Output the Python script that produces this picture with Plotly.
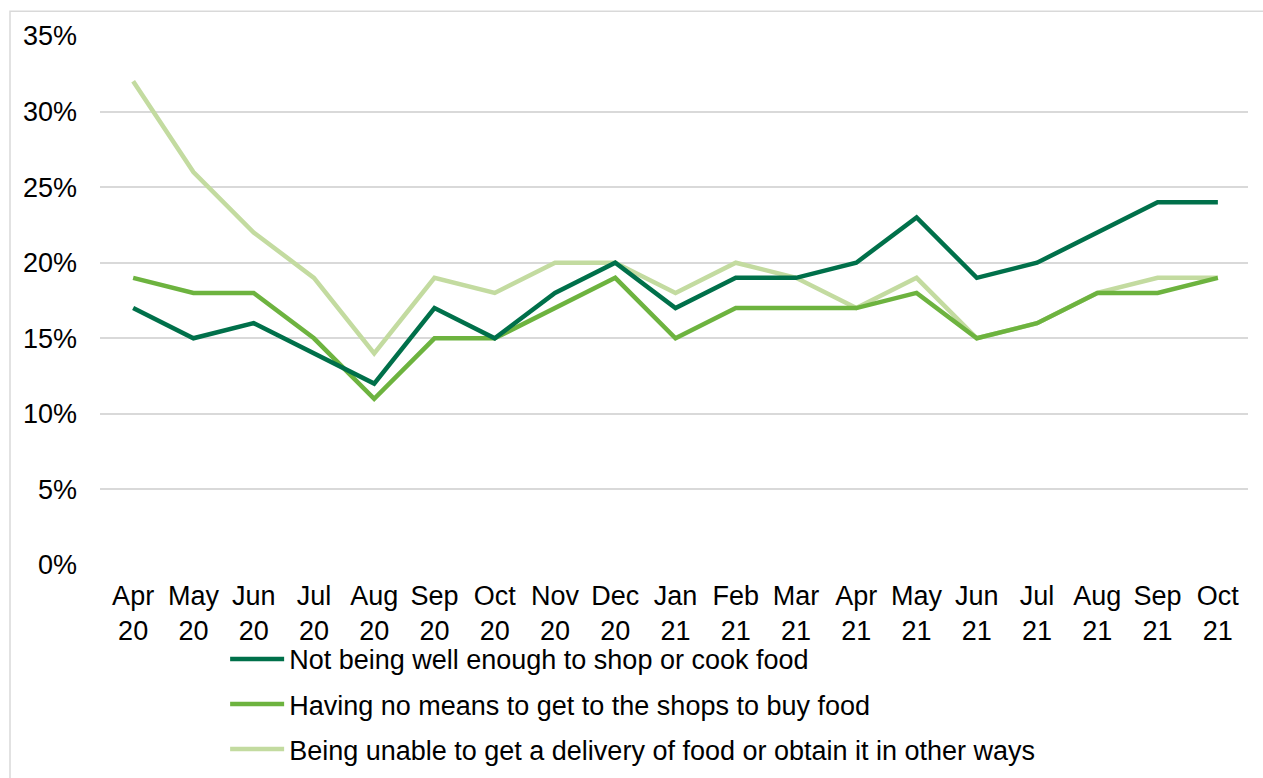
import plotly.graph_objects as go

months = ["Apr<br>20", "May<br>20", "Jun<br>20", "Jul<br>20", "Aug<br>20", "Sep<br>20",
          "Oct<br>20", "Nov<br>20", "Dec<br>20", "Jan<br>21", "Feb<br>21", "Mar<br>21",
          "Apr<br>21", "May<br>21", "Jun<br>21", "Jul<br>21", "Aug<br>21", "Sep<br>21",
          "Oct<br>21"]

not_well = [17, 15, 16, 14, 12, 17, 15, 18, 20, 17, 19, 19, 20, 23, 19, 20, 22, 24, 24]
no_means = [19, 18, 18, 15, 11, 15, 15, 17, 19, 15, 17, 17, 17, 18, 15, 16, 18, 18, 19]
no_delivery = [32, 26, 22, 19, 14, 19, 18, 20, 20, 18, 20, 19, 17, 19, 15, 16, 18, 19, 19]

series = [
    ("Not being well enough to shop or cook food", not_well, "#00704a"),
    ("Having no means to get to the shops to buy food", no_means, "#6db33f"),
    ("Being unable to get a delivery of food or obtain it in other ways", no_delivery, "#c3dba0"),
]

fig = go.Figure()
# draw lightest first so darker lines sit on top, keep legend order
for i, (name, vals, col) in reversed(list(enumerate(series))):
    fig.add_trace(go.Scatter(
        x=list(range(len(months))), y=vals, name=name, mode="lines",
        line=dict(color=col, width=4.5), legendgroup=str(i), legendrank=i,
    ))

fig.update_layout(
    width=1263, height=778,
    margin=dict(l=100, r=15, t=36, b=213, autoexpand=False),
    paper_bgcolor="white", plot_bgcolor="white",
    font=dict(family="Liberation Sans, Arial, sans-serif", size=26, color="black"),
    showlegend=True,
    legend=dict(x=0.109, y=-0.132, xanchor="left", yanchor="top",
                orientation="v", tracegroupgap=7, itemwidth=54,
                font=dict(size=27), bgcolor="rgba(0,0,0,0)"),
    xaxis=dict(
        tickmode="array", tickvals=list(range(len(months))), ticktext=months,
        range=[-0.55, 18.5], showgrid=False, zeroline=False, showline=False,
        ticks="", ticklabelstandoff=12, tickfont=dict(size=27),
    ),
    yaxis=dict(
        range=[0, 35], dtick=5, ticksuffix="%", showgrid=True,
        gridcolor="#d9d9d9", gridwidth=1.5, zeroline=False, showline=False,
        ticks="", ticklabelstandoff=22, tickfont=dict(size=27),
    ),
    shapes=[dict(type="rect", xref="paper", yref="paper",
                 x0=-0.0784, x1=1.2, y0=-0.5, y1=1.047,
                 line=dict(color="#d9d9d9", width=1.5), layer="below")],
)

fig.write_html("out.html")
